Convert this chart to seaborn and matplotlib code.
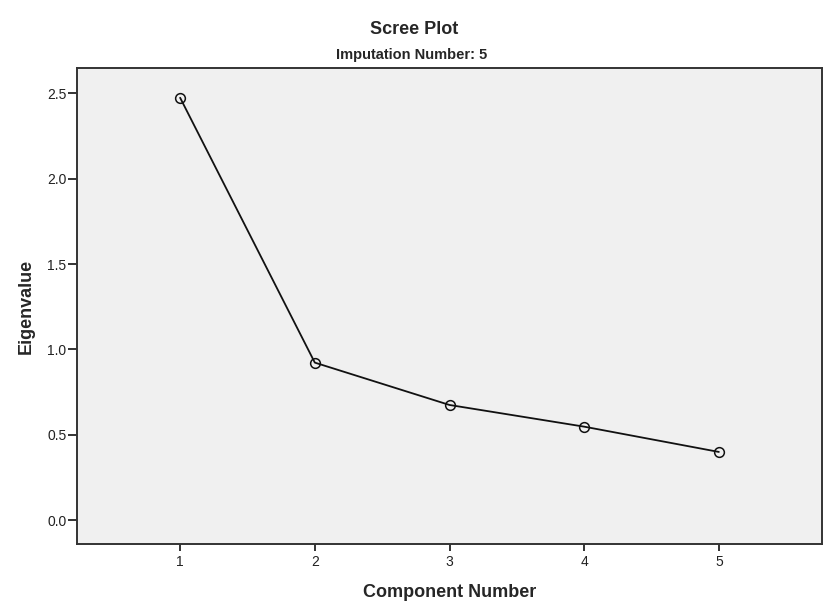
import numpy as np
import pandas as pd
import seaborn as sns
import matplotlib
matplotlib.use("Agg")
import matplotlib.pyplot as plt

# scree plot values
components = [1, 2, 3, 4, 5]
eigenvalues = [2.474, 0.923, 0.675, 0.548, 0.400]
y_ticks = [0.0, 0.5, 1.0, 1.5, 2.0, 2.5]

df = pd.DataFrame({"component": components, "eigenvalue": eigenvalues})

sns.set_style("ticks")
plt.rcParams['font.family'] = ['Liberation Sans', 'DejaVu Sans']

fig = plt.figure(figsize=(8.25, 6.13), dpi=100)
ax = fig.add_axes([0.0933, 0.1126, 0.9031, 0.7764])
ax.set_facecolor('#f0f0f0')

sns.lineplot(data=df, x="component", y="eigenvalue", ax=ax, color='#111111',
             linewidth=1.3, marker='o', markersize=7, markerfacecolor='none',
             markeredgecolor='#111111', markeredgewidth=1.1)

ax.set_xlim(0.234, 5.766)
ax.set_ylim(-0.139, 2.648)
ax.set_xticks(components)
ax.set_yticks(y_ticks)
ax.set_yticklabels([f"{v:.1f}" for v in y_ticks])

for s in ax.spines.values():
    s.set_visible(True)
    s.set_color('#333333')
    s.set_linewidth(1.4)

ax.tick_params(axis='both', colors='#333333', labelcolor='#222222',
               labelsize=10, width=1.4)
ax.tick_params(axis='y', length=6.5, pad=1)
ax.tick_params(axis='x', length=5, pad=3)

ax.set_xlabel('Component Number', fontsize=13, fontweight='bold', labelpad=11)
ax.set_ylabel('Eigenvalue', fontsize=13, fontweight='bold', labelpad=9)

fig.text(0.5015, 1 - 30 / 613, 'Scree Plot', ha='center', va='center',
         fontsize=13, fontweight='bold')
fig.text(0.4985, 1 - 55 / 613, 'Imputation Number: 5', ha='center', va='center',
         fontsize=10.5, fontweight='bold')

fig.savefig('out.png', dpi=100)
